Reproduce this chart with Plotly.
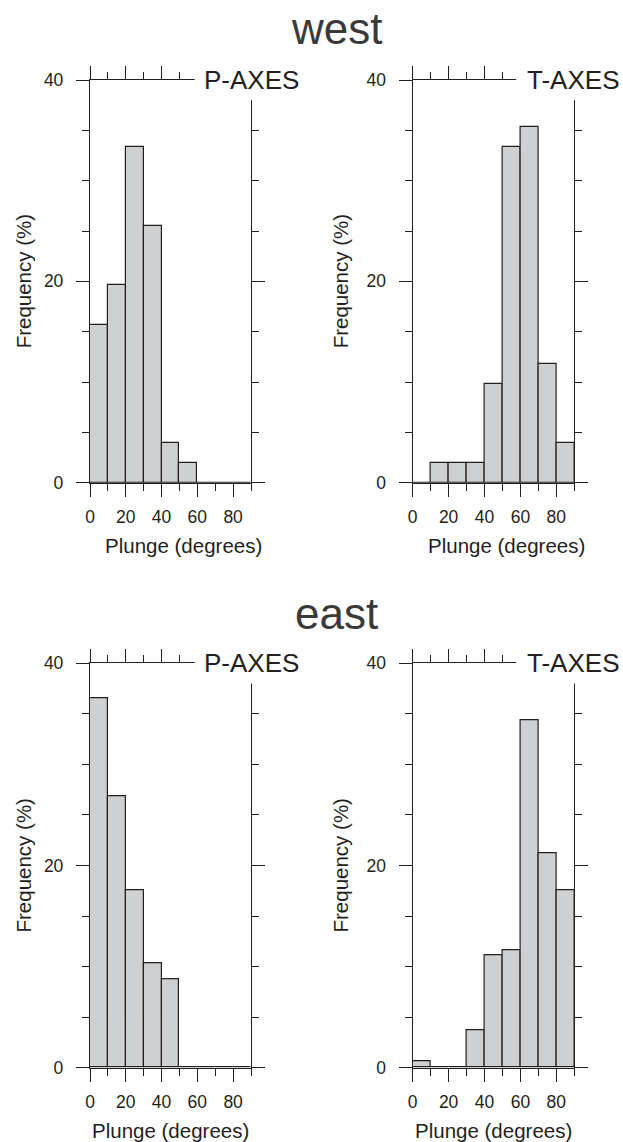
import plotly.graph_objects as go

# ---- data: plunge histograms (percent of events per 10-degree bin) ----
bin_centers = [5, 15, 25, 35, 45, 55, 65, 75, 85]
west_p_axes = [15.7, 19.6, 33.3, 25.5, 3.9, 2.0, 0, 0, 0]
west_t_axes = [0, 1.96, 1.96, 1.96, 9.8, 33.3, 35.3, 11.8, 3.9]
east_p_axes = [36.5, 26.8, 17.5, 10.3, 8.75, 0, 0, 0, 0]
east_t_axes = [0.6, 0, 0, 3.7, 11.1, 11.65, 34.4, 21.2, 17.5]

x_tick_values = [0, 20, 40, 60, 80]
y_tick_values = [0, 20, 40]
region_titles = ["west", "east"]
axis_labels = ["P-AXES", "T-AXES"]

# ---- styling ----
W, H = 623, 1142
INK = "#231f20"
FILL = "#cfd0d2"
TITLE_INK = "#3a3a3a"
FONT = "Liberation Sans, Arial, Helvetica, sans-serif"

# pixel boxes of the four panels: (left, right), (top, bottom)
col_px = [(90, 251), (412.7, 574.3)]
row_px = [(80, 482.7), (663.3, 1067.7)]


def fx(px):
    return px / W


def fy(py):
    return 1 - py / H


series = [[west_p_axes, west_t_axes], [east_p_axes, east_t_axes]]

fig = go.Figure()
layout = dict(
    width=W, height=H,
    margin=dict(l=0, r=0, t=0, b=0, autoexpand=False),
    paper_bgcolor="white", plot_bgcolor="white",
    showlegend=False, bargap=0,
    font=dict(family=FONT, color=INK),
    annotations=[], shapes=[],
)

k = 0
for r in range(2):
    for c in range(2):
        k += 1
        sfx = "" if k == 1 else str(k)
        xa, ya = "x" + sfx, "y" + sfx
        fig.add_trace(go.Bar(
            x=bin_centers, y=series[r][c], width=10,
            marker=dict(color=FILL, line=dict(color=INK, width=1.2)),
            xaxis=xa, yaxis=ya, hoverinfo="skip",
        ))
        (x0, x1), (y0, y1) = col_px[c], row_px[r]
        common = dict(
            showline=True, linecolor=INK, linewidth=1.3, mirror="allticks",
            ticks="outside", tickcolor=INK, tickwidth=1.3, ticklen=13,
            showgrid=False, zeroline=False, fixedrange=True, automargin=False,
            tickfont=dict(family=FONT, size=17.5, color=INK),
        )
        layout["xaxis" + sfx] = dict(
            common, domain=[fx(x0), fx(x1)], anchor=ya, range=[0, 90],
            tickvals=x_tick_values, ticklabelstandoff=5,
            minor=dict(ticks="outside", dtick=10, tick0=0, ticklen=7,
                       tickwidth=1.3, tickcolor=INK, showgrid=False),
        )
        layout["yaxis" + sfx] = dict(
            common, domain=[fy(y1), fy(y0)], anchor=xa, range=[0, 40],
            tickvals=y_tick_values, ticklabelstandoff=9,
            minor=dict(ticks="outside", dtick=5, tick0=0, ticklen=7,
                       tickwidth=1.3, tickcolor=INK, showgrid=False),
        )
        # white label box masking the top-right corner of the frame
        layout["shapes"].append(dict(
            type="rect", xref=xa + " domain", yref=ya + " domain",
            x0=(105 if c == 0 else 103.3) / 161.3, x1=1.35, y0=0.95, y1=1.12,
            fillcolor="white", line=dict(width=0), layer="above",
        ))
        layout["annotations"].append(dict(
            text=axis_labels[c], xref=xa + " domain", yref=ya + " domain",
            x=(112 if c == 0 else 112.3) / 161.3, y=1.0,
            xanchor="left", yanchor="middle", showarrow=False,
            font=dict(family=FONT, size=26, color=INK),
        ))
        # axis titles
        yc = (y0 + y1) / 2
        layout["annotations"].append(dict(
            text="Frequency (%)", xref="paper", yref="paper",
            x=fx(23 if c == 0 else 340), y=fy(yc), textangle=-90,
            xanchor="center", yanchor="middle", showarrow=False,
            font=dict(family=FONT, size=20.5, color=INK),
        ))
        shift = 13 if r == 0 else 0
        layout["annotations"].append(dict(
            text="Plunge (degrees)", xref="paper", yref="paper",
            x=fx((x0 + x1) / 2 + shift), y=fy(y1 + 70.5 - 7.3),
            xanchor="center", yanchor="middle", showarrow=False,
            font=dict(family=FONT, size=20.5, color=INK),
        ))

for r, title in enumerate(region_titles):
    layout["annotations"].append(dict(
        text=title, xref="paper", yref="paper",
        x=fx(336), y=fy(28.7 if r == 0 else 613.7),
        xanchor="center", yanchor="middle", showarrow=False,
        font=dict(family=FONT, size=44, color=TITLE_INK),
    ))

fig.update_layout(**layout)
fig.write_html("out.html")
